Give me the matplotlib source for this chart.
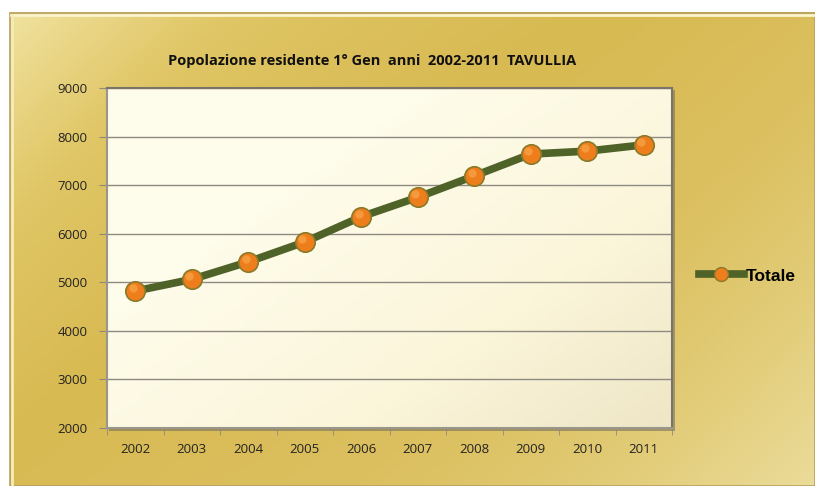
import numpy as np
import matplotlib
matplotlib.use("Agg")
import matplotlib.pyplot as plt
from matplotlib.colors import LinearSegmentedColormap
from matplotlib.patches import Rectangle
from matplotlib.lines import Line2D

years = ["2002", "2003", "2004", "2005", "2006", "2007", "2008", "2009", "2010", "2011"]
totale = [4820, 5060, 5420, 5830, 6350, 6750, 7190, 7640, 7700, 7830]
title = "Popolazione residente 1° Gen  anni  2002-2011  TAVULLIA"
series_name = "Totale"

W, H = 815, 486
fig = plt.figure(figsize=(W / 100, H / 100), dpi=100)
fig.patch.set_facecolor("white")

# background gold frame
bg = fig.add_axes([0, 0, 1, 1])
bg.set_xlim(0, W)
bg.set_ylim(H, 0)
bg.axis("off")
gold = LinearSegmentedColormap.from_list(
    "gold", ["#f0e29e", "#e0c666", "#d8ba52", "#dcc060", "#e2cc78", "#eadb98"])
xx, yy = np.meshgrid(np.linspace(0, 1, 200), np.linspace(0, 1, 120))
val = 0.6 * xx + 0.4 * yy + 0.05 * np.sin(xx * 5 + yy * 2)
val = (val - val.min()) / (val.max() - val.min())
bg.imshow(val, cmap=gold, extent=[10, W, H, 13], aspect="auto", zorder=0)
bg.add_patch(Rectangle((10, 13), W - 10, H - 13, fill=False,
                       edgecolor="#b8a060", lw=1.2, zorder=1))
bg.plot([11, W], [15, 15], color="#fbf4cc", lw=2, zorder=1)
bg.plot([12, 12], [15, H], color="#f6ecb8", lw=2, zorder=1)
# plot area shadow
bg.add_patch(Rectangle((109, 90), 566, 341, facecolor="#6e6a5e", alpha=0.55,
                       edgecolor="none", zorder=1))

# plot area
ax = fig.add_axes([107 / W, 1 - 428 / H, 565 / W, 340 / H])
ax.set_xlim(-0.5, len(years) - 0.5)
ax.set_ylim(2000, 9000)
cream = LinearSegmentedColormap.from_list("cream", ["#fefcea", "#fbf5da", "#ece2c2"])
gx, gy = np.meshgrid(np.linspace(0, 1, 100), np.linspace(0, 1, 100))
gv = np.clip((gx * 0.7 + gy * 0.6) - 0.4, 0, 1)
ax.imshow(gv, cmap=cream, extent=[-0.5, len(years) - 0.5, 2000, 9000],
          aspect="auto", zorder=0, vmin=0, vmax=1)

x = np.arange(len(years))
ax.set_yticks(range(2000, 9001, 1000))
ax.yaxis.grid(True, color="#8e8a82", lw=1.0, zorder=1)
ax.set_axisbelow(True)
ax.plot(x, totale, color="#4f6228", lw=5.5, zorder=3, solid_capstyle="round")
ax.plot(x, totale, linestyle="none", marker="o", markersize=14,
        markerfacecolor="#ee7d1c", markeredgecolor="#8a7a2a", markeredgewidth=1.2, zorder=4)
ax.plot(x - 0.04, np.array(totale) + 60, linestyle="none", marker="o", markersize=6,
        markerfacecolor="#f7a54a", markeredgecolor="none", alpha=0.7, zorder=5)

ax.set_xticks(x)
ax.set_xticklabels(years)
ax.set_xticks(np.arange(-0.5, len(years)), minor=True)
ax.tick_params(axis="x", which="major", length=0, pad=11, labelsize=9.5, labelcolor="#222222")
ax.tick_params(axis="x", which="minor", length=5, color="#8e8a82", direction="out")
ax.tick_params(axis="y", length=6, color="#8e8a82", pad=8, labelsize=9.5, labelcolor="#222222")
for lab in ax.get_xticklabels() + ax.get_yticklabels():
    lab.set_family("Open Sans")
for s in ["top", "right"]:
    ax.spines[s].set_color("#7a7468")
    ax.spines[s].set_linewidth(1.5)
for s in ["left", "bottom"]:
    ax.spines[s].set_color("#9a968c")
    ax.spines[s].set_linewidth(1.5)

fig.text(372 / W, 1 - 61 / H, title, ha="center", va="center",
         fontsize=10.5, fontweight="bold", family="Open Sans", color="#111111")

# legend
leg = [Line2D([0], [0], color="#4f6228", lw=5.5, marker="o", markersize=10,
              markerfacecolor="#ee7d1c", markeredgecolor="#8a7a2a")]
fig.legend(leg, [series_name], loc="center left", bbox_to_anchor=(683 / W, 1 - 276 / H),
           frameon=False, handlelength=2.6, handletextpad=0.1,
           prop={"family": "Liberation Sans", "weight": "bold", "size": 12.5})

fig.savefig("out.png", dpi=100)
